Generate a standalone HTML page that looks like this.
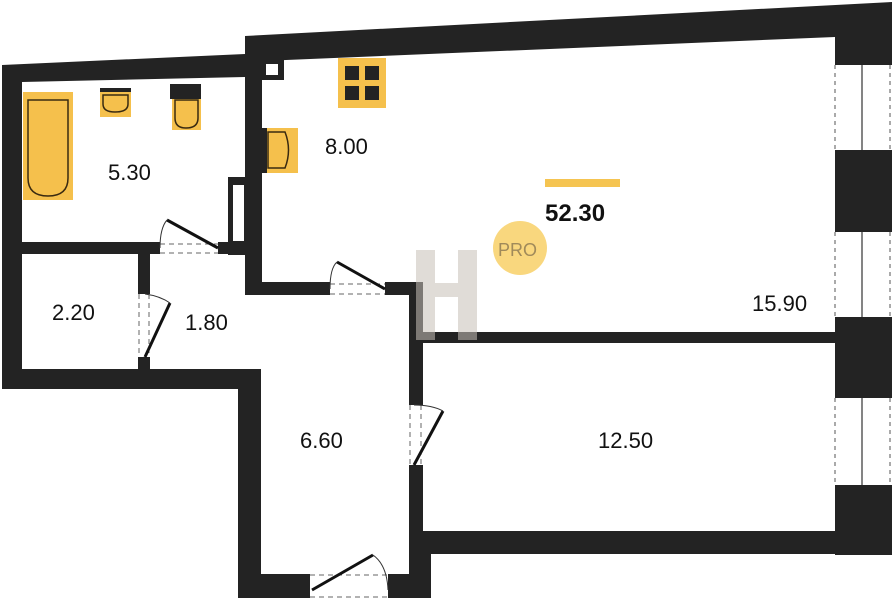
<!DOCTYPE html><html><head><style>body{margin:0;background:#fff}svg{display:block}text{font-family:"Liberation Sans",sans-serif;font-size:22px;fill:#111}</style></head><body>
<svg width="892" height="600" viewBox="0 0 892 600">
<g fill="#232323">
<polygon points="2,65 245,54 245,77 22,82 22,388 2,388"/>
<polygon points="245,36 892,2 892,555 835,555 835,37 262,61 262,282 245,282"/>
<rect x="2" y="369" width="259" height="20"/>
<rect x="238" y="369" width="23" height="229"/>
<rect x="238" y="574" width="72" height="24"/>
<rect x="388" y="574" width="43" height="24"/>
<rect x="409" y="531" width="22" height="67"/>
<rect x="409" y="531" width="483" height="23"/>
<rect x="409" y="282" width="14" height="123"/>
<rect x="409" y="465" width="14" height="66"/>
<rect x="415" y="332" width="420" height="11"/>
<rect x="245" y="282" width="85" height="13"/>
<rect x="385" y="282" width="38" height="13"/>
<rect x="228" y="177" width="19" height="78"/>
<rect x="2" y="242" width="158" height="12"/>
<rect x="218" y="242" width="30" height="12"/>
<rect x="138" y="242" width="12" height="52"/>
<rect x="138" y="357" width="12" height="13"/>
<rect x="262" y="60" width="22" height="20"/>
</g>
<rect x="233" y="185" width="11" height="56" fill="#fff"/>
<rect x="266" y="64" width="12" height="11" fill="#fff"/>
<g fill="#fff"><rect x="835" y="65" width="57" height="85"/><rect x="835" y="232" width="57" height="85"/><rect x="835" y="398" width="57" height="87"/></g>
<g stroke="#555" stroke-dasharray="4,4" fill="none"><path d="M835 65V150M890 65V150M835 232V317M890 232V317M835 398V485M890 398V485"/></g>
<g stroke="#333" stroke-width="1.2"><path d="M862 65V150M862 232V317M862 398V485"/></g>
<g stroke="#666" stroke-dasharray="5,4" fill="none"><path d="M160 244H218M160 253H218M330 284H385M330 294H385M139 294V357M149 294V357M410 405V465M421 405V465M310 575H388M310 597H388"/></g>
<g stroke="#111" stroke-width="3"><path d="M218 248L167 220M385 289L337 262M145 357L170 303M414 465L443 411M312 590L373 555"/></g>
<g stroke="#333" fill="none" stroke-width="1"><path d="M160 248Q160 228 167 220M330 289Q330 268 337 262M145 294Q160 296 170 303M414 405Q432 405 443 411M388 590Q387 565 373 555"/></g>
<g fill="#F5C04C" stroke="#3a2a10" stroke-width="1.5">
<rect x="23" y="92" width="50" height="108" stroke="none"/>
<path d="M28 100H68V178Q68 196 48 196Q28 196 28 178Z" fill="none"/>
<rect x="100" y="88" width="31" height="29" stroke="none"/>
<path d="M103 95H128V104Q128 112 115 112Q103 112 103 104Z" fill="none"/>
<rect x="172" y="84" width="29" height="46" stroke="none"/>
<path d="M175 100H198V118Q198 128 186 128Q175 128 175 118Z" fill="none"/>
<rect x="338" y="58" width="48" height="50" stroke="none"/>
<rect x="262" y="128" width="36" height="45" stroke="none"/>
<path d="M268 132H285Q292 150 285 168H268Z" fill="none"/>
</g>
<rect x="170" y="84" width="31" height="15" fill="#232323"/>
<rect x="100" y="88" width="31" height="4" fill="#232323"/>
<g fill="#232323"><rect x="345" y="66" width="14" height="14"/><rect x="365" y="66" width="14" height="14"/><rect x="345" y="86" width="14" height="14"/><rect x="365" y="86" width="14" height="14"/><rect x="262" y="128" width="5" height="45"/></g>
<g fill="#c8c0b8" opacity="0.55"><rect x="416" y="250" width="19" height="90"/><rect x="458" y="250" width="19" height="90"/><rect x="435" y="283" width="23" height="14"/></g>
<rect x="545" y="179" width="75" height="8" fill="#F5C451"/>
<text x="545" y="221" style="font-weight:bold;font-size:24px">52.30</text>
<circle cx="520" cy="248" r="27" fill="#F9D77E"/>
<text x="498" y="256" style="font-size:18px;fill:#a08a5a">PRO</text>
<text x="108" y="180">5.30</text>
<text x="325" y="154">8.00</text>
<text x="752" y="311">15.90</text>
<text x="52" y="320">2.20</text>
<text x="185" y="330">1.80</text>
<text x="300" y="448">6.60</text>
<text x="598" y="448">12.50</text>
</svg></body></html>
